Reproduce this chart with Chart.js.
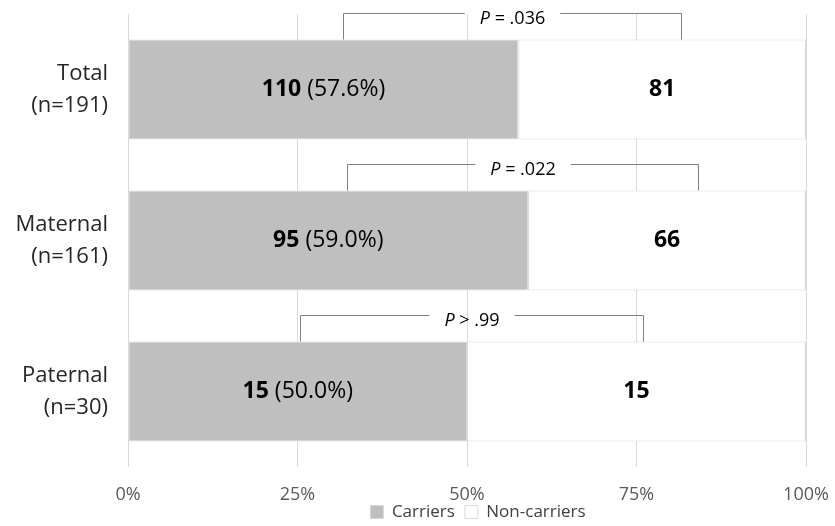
<!DOCTYPE html>
<html><head><meta charset="utf-8">
<script src="https://cdn.jsdelivr.net/npm/chart.js@4"></script>
<style>html,body{margin:0;padding:0;background:#fff}#wrap{width:835px;height:526px}</style>
</head><body><div id="wrap"><canvas id="c" width="835" height="526"></canvas></div>
<script>
const categories = [["Total", "(n=191)"], ["Maternal", "(n=161)"], ["Paternal", "(n=30)"]];
const carriers = [110, 95, 15];
const nonCarriers = [81, 66, 15];
const seriesNames = ["Carriers", "Non-carriers"];
const xTicks = [0, 25, 50, 75, 100];
const pOperators = ["=", "=", ">"];
const pValues = [".036", ".022", ".99"];
const bracketFrom = [31.7, 32.3, 25.4];
const bracketTo = [81.6, 84.1, 75.9];

const FONT = '"Open Sans", "DejaVu Sans", sans-serif';
const totals = carriers.map((c, i) => c + nonCarriers[i]);
const carrierPct = carriers.map((c, i) => c / totals[i] * 100);
const nonCarrierPct = nonCarriers.map((c, i) => c / totals[i] * 100);

const labelPlugin = {
  id: 'labels',
  afterDatasetsDraw(chart) {
    const ctx = chart.ctx;
    ctx.save();
    ctx.textBaseline = 'middle';
    ctx.fillStyle = '#000';
    const m0 = chart.getDatasetMeta(0), m1 = chart.getDatasetMeta(1);
    m0.data.forEach((el, i) => {
      const cx = (el.x + el.base) / 2;
      const bold = String(carriers[i]);
      const reg = ' (' + carrierPct[i].toFixed(1) + '%)';
      ctx.font = 'bold 23px ' + FONT;
      const wb = ctx.measureText(bold).width;
      ctx.font = '23px ' + FONT;
      const wr = ctx.measureText(reg).width;
      const x = cx - (wb + wr) / 2;
      ctx.textAlign = 'left';
      ctx.font = 'bold 23px ' + FONT;
      ctx.fillText(bold, x, el.y);
      ctx.font = '23px ' + FONT;
      ctx.fillText(reg, x + wb, el.y);
    });
    m1.data.forEach((el, i) => {
      const cx = (el.x + el.base) / 2;
      ctx.font = 'bold 23px ' + FONT;
      ctx.textAlign = 'center';
      ctx.fillText(String(nonCarriers[i]), cx, el.y);
    });
    ctx.restore();
  }
};

const bracketPlugin = {
  id: 'brackets',
  afterDatasetsDraw(chart) {
    const ctx = chart.ctx;
    const xs = chart.scales.x;
    const band = chart.chartArea.height / categories.length;
    const m0 = chart.getDatasetMeta(0);
    ctx.save();
    ctx.strokeStyle = '#808080';
    ctx.lineWidth = 1;
    m0.data.forEach((el, i) => {
      const yTop = Math.round(el.y - band / 2) - 0.5;
      const yBar = el.y - el.height / 2;
      const xl = Math.round(xs.getPixelForValue(bracketFrom[i])) + 0.5;
      const xr = Math.round(xs.getPixelForValue(bracketTo[i])) + 0.5;
      const mid = (xl + xr) / 2;
      ctx.font = 'italic 18px ' + FONT;
      const wP = ctx.measureText('P').width;
      ctx.font = '18px ' + FONT;
      const rest = ' ' + pOperators[i] + ' ' + pValues[i];
      const wR = ctx.measureText(rest).width;
      const tw = wP + wR;
      const pad = 15;
      ctx.beginPath();
      ctx.moveTo(xl, yBar);
      ctx.lineTo(xl, yTop);
      ctx.lineTo(mid - tw / 2 - pad, yTop);
      ctx.moveTo(mid + tw / 2 + pad, yTop);
      ctx.lineTo(xr, yTop);
      ctx.lineTo(xr, yBar);
      ctx.stroke();
      ctx.fillStyle = '#000';
      ctx.textBaseline = 'middle';
      ctx.textAlign = 'left';
      const tx = mid - tw / 2;
      const ty = yTop + 5;
      ctx.font = 'italic 18px ' + FONT;
      ctx.fillText('P', tx, ty);
      ctx.font = '18px ' + FONT;
      ctx.fillText(rest, tx + wP, ty);
    });
    ctx.restore();
  }
};

const legendShift = {
  id: 'legendShift',
  afterLayout(chart) {
    const lg = chart.legend;
    if (!lg) return;
    const dx = 75;
    lg.left += dx; lg.right += dx;
    lg.top = 512 - (10 + 8.5);
    lg.bottom = chart.height;
    lg.height = lg.bottom - lg.top;
  }
};

function draw() {
  new Chart(document.getElementById('c'), {
    type: 'bar',
    data: {
      labels: categories,
      datasets: [
        { label: seriesNames[0], data: carrierPct, backgroundColor: '#bfbfbf', borderColor: '#d9d9d9', borderWidth: 1, borderSkipped: false },
        { label: seriesNames[1], data: nonCarrierPct, backgroundColor: '#ffffff', borderColor: '#d9d9d9', borderWidth: 1, borderSkipped: false }
      ]
    },
    options: {
      indexAxis: 'y',
      responsive: false,
      animation: false,
      devicePixelRatio: 1,
      layout: { padding: { top: 14, right: 29, left: 0, bottom: 0 } },
      datasets: { bar: { categoryPercentage: 1, barPercentage: 0.662 } },
      scales: {
        x: {
          stacked: true, min: 0, max: 100,
          afterBuildTicks: s => { s.ticks = xTicks.map(v => ({ value: v })); },
          afterFit: s => { s.height = 45; s.paddingLeft = 0; s.paddingRight = 0; },
          ticks: { callback: v => v + '%', color: '#595959', font: { family: FONT, size: 18 }, padding: 17, maxRotation: 0 },
          grid: { color: '#d9d9d9', drawTicks: false, tickLength: 0 },
          border: { display: false }
        },
        y: {
          stacked: true,
          afterFit: s => { s.width = 128; s.paddingTop = 0; s.paddingBottom = 0; },
          ticks: { color: '#262626', font: { family: FONT, size: 22, lineHeight: 1.45 }, padding: 12 },
          grid: { display: false },
          border: { display: false }
        }
      },
      plugins: {
        legend: {
          position: 'bottom',
          maxHeight: 14,
          labels: { boxWidth: 13, boxHeight: 13, padding: 10, color: '#404040', font: { family: FONT, size: 17 } }
        },
        tooltip: { enabled: false }
      }
    },
    plugins: [labelPlugin, bracketPlugin, legendShift]
  });
}
Promise.all([
  document.fonts.load('15px "Open Sans"'),
  document.fonts.load('bold 21px "Open Sans"'),
  document.fonts.load('italic 15px "Open Sans"')
]).then(draw, draw);
</script>
</body></html>
